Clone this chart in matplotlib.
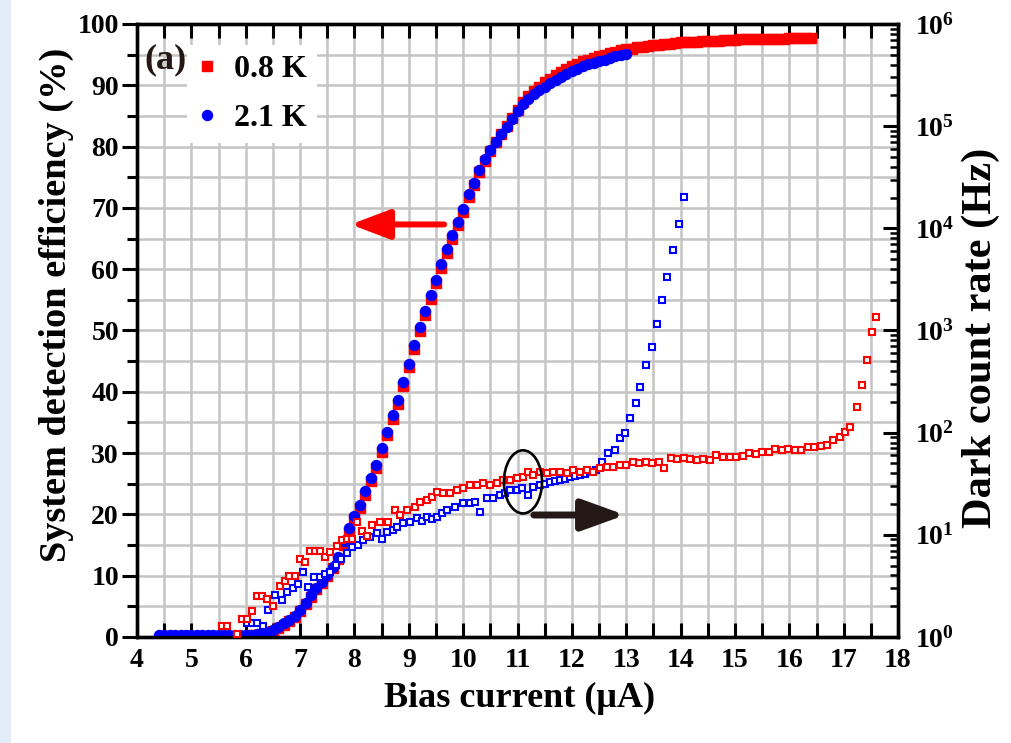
import numpy as np
import matplotlib
matplotlib.use('Agg')
import matplotlib.pyplot as plt
from matplotlib.ticker import MultipleLocator, LogLocator, NullFormatter, LogFormatterMathtext
from matplotlib.patches import Ellipse, Rectangle

plt.rcParams['font.family'] = ['Liberation Serif', 'DejaVu Serif']
plt.rcParams['font.weight'] = 'bold'
plt.rcParams['mathtext.fontset'] = 'custom'
plt.rcParams['mathtext.rm'] = 'Liberation Serif:bold'
plt.rcParams['mathtext.bf'] = 'Liberation Serif:bold'
plt.rcParams['mathtext.it'] = 'Liberation Serif:bold'

# ---------------- data ----------------
# System detection efficiency (%), 2.1 K, bias sweep 4.4 .. 13.0 uA
bias_sde_21K = np.round(np.arange(4.4, 13.05, 0.1), 2)
sde_21K = [0.3, 0.3, 0.3, 0.3, 0.3, 0.3, 0.3, 0.3, 0.3, 0.3, 0.3, 0.3, 0.3, 0.3, 0.3, 0.3,
           0.3, 0.4, 0.5, 0.6, 0.8, 1.2, 1.7, 2.2, 2.8, 3.5,
           4.4, 5.5, 6.8, 8.0, 9.0, 10.1, 11.4, 13.0, 15.6, 17.7,
           19.7, 21.5, 23.8, 26.0, 28.0, 30.8, 33.5, 36.2, 38.6, 41.6,
           44.6, 47.7, 50.5, 53.2, 55.8, 58.3, 60.8, 63.3, 65.6, 67.7,
           69.8, 72.2, 74.1, 76.2, 78.0, 79.5, 80.8, 82.0, 83.2, 84.5,
           85.8, 86.9, 87.8, 88.6, 89.2, 89.8, 90.3, 90.8, 91.4, 91.8,
           92.3, 92.7, 93.1, 93.4, 93.7, 94.0, 94.2, 94.5, 94.7, 94.9,
           95.1]

# System detection efficiency (%), 0.8 K, bias sweep 6.0 .. 16.4 uA
bias_sde_08K = np.round(np.arange(6.0, 16.45, 0.1), 2)
sde_08K = [0.2, 0.3, 0.4, 0.5, 0.7, 1.0, 1.5, 2.0, 2.6, 3.3,
           4.2, 5.3, 6.6, 7.8, 8.8, 9.9, 11.2, 12.8, 15.0, 17.2,
           19.2, 21.0, 23.2, 25.4, 27.5, 30.2, 32.9, 35.6, 38.0, 41.0,
           44.0, 47.0, 49.9, 52.6, 55.2, 57.7, 60.2, 62.7, 65.0, 67.2,
           69.3, 71.7, 73.7, 75.8, 77.7, 79.3, 80.7, 82.0, 83.3, 84.7,
           86.0, 87.2, 88.2, 89.1, 89.8, 90.5, 91.1, 91.7, 92.2, 92.7,
           93.1, 93.5, 93.9, 94.2, 94.5, 94.8, 95.0, 95.3, 95.5, 95.7,
           95.9, 96.0, 96.2, 96.3, 96.4, 96.5, 96.6, 96.7, 96.8, 96.9,
           97.0, 97.0, 97.1, 97.1, 97.2, 97.2, 97.3, 97.3, 97.4, 97.4,
           97.4, 97.5, 97.5, 97.5, 97.5, 97.6, 97.6, 97.6, 97.6, 97.6,
           97.7, 97.7, 97.7, 97.7, 97.7]

# Dark count rate (Hz), 0.8 K
bias_dcr_08K = [5.56, 5.65, 5.84, 5.93, 6.02, 6.11, 6.2, 6.3, 6.4, 6.5,
                6.63, 6.72, 6.8, 6.9, 7.0, 7.09, 7.18, 7.28, 7.37, 7.46,
                7.55, 7.68, 7.77, 7.86, 7.95, 8.05, 8.14, 8.23, 8.32, 8.47,
                8.62, 8.75, 8.84, 8.97, 9.11, 9.2, 9.33, 9.42, 9.52, 9.63,
                9.76, 9.89, 10.0, 10.13, 10.25, 10.37, 10.49, 10.62, 10.73, 10.86,
                10.99, 11.1, 11.19, 11.28, 11.41, 11.54, 11.65, 11.78, 11.91, 12.02,
                12.15, 12.28, 12.39, 12.52, 12.65, 12.76, 12.88, 13.0, 13.12, 13.24,
                13.36, 13.48, 13.6, 13.7, 13.82, 13.94, 14.06, 14.18, 14.3, 14.42,
                14.54, 14.66, 14.78, 14.9, 15.02, 15.14, 15.26, 15.38, 15.5, 15.62,
                15.74, 15.86, 15.98, 16.1, 16.22, 16.34, 16.46, 16.58, 16.69, 16.8,
                16.93, 17.02, 17.12, 17.24, 17.34, 17.43, 17.52, 17.6]
dcr_08K = [1.28, 1.28, 1.07, 1.51, 1.51, 1.81, 2.52, 2.52, 2.36, 2.0,
           3.15, 3.56, 3.98, 3.98, 5.78, 5.40, 7.01, 7.01, 7.01, 6.03,
           6.73, 7.73, 8.87, 9.12, 9.12, 13.2, 10.9, 9.77, 12.4, 13.4,
           13.4, 17.5, 15.6, 17.5, 18.7, 20.9, 21.8, 23.3, 26.1, 25.4,
           25.4, 27.5, 28.7, 30.8, 30.8, 32.1, 30.8, 32.1, 34.4, 34.4,
           35.8, 36.8, 41.1, 38.4, 41.1, 40.0, 41.1, 41.1, 40.0, 42.9,
           41.1, 42.9, 41.1, 44.7, 45.9, 45.9, 47.9, 47.9, 51.3, 49.9,
           51.3, 49.9, 51.3, 45.3, 56.5, 55.0, 56.5, 55.0, 54.2, 55.0,
           54.2, 60.5, 57.3, 57.3, 58.1, 58.9, 63.1, 61.4, 64.0, 64.9,
           69.5, 67.6, 68.5, 67.6, 67.6, 72.4, 72.4, 73.5, 75.5, 84.3,
           90.4, 101, 113, 178, 292, 515, 959, 1355]

# Dark count rate (Hz), 2.1 K
bias_dcr_21K = [6.02, 6.11, 6.2, 6.32, 6.41, 6.54, 6.66, 6.75, 6.87, 6.96,
                7.06, 7.15, 7.25, 7.37, 7.46, 7.55, 7.66, 7.76, 7.86, 7.96,
                8.06, 8.16, 8.28, 8.41, 8.5, 8.6, 8.7, 8.78, 8.9, 9.02,
                9.15, 9.24, 9.33, 9.42, 9.52, 9.61, 9.7, 9.85, 10.0, 10.13,
                10.22, 10.31, 10.44, 10.55, 10.68, 10.77, 10.86, 10.99, 11.09, 11.19,
                11.28, 11.41, 11.5, 11.6, 11.69, 11.78, 11.88, 11.97, 12.06, 12.15,
                12.24, 12.33, 12.45, 12.55, 12.67, 12.79, 12.89, 12.98, 13.07, 13.18,
                13.25, 13.36, 13.47, 13.57, 13.66, 13.75, 13.86, 13.97, 14.06]
dcr_21K = [1.37, 1.37, 1.37, 1.28, 1.84, 2.56, 2.29, 2.74, 3.02, 3.28,
           4.33, 3.10, 3.87, 3.87, 4.09, 4.33, 5.11, 5.86, 6.64, 7.52,
           7.94, 8.87, 9.51, 10.5, 9.12, 10.6, 11.2, 12.0, 13.1, 13.4,
           14.6, 13.8, 15.0, 14.4, 15.0, 16.3, 17.5, 18.7, 20.3, 20.3,
           20.9, 16.7, 23.0, 23.0, 24.7, 25.7, 27.5, 27.5, 28.7, 24.7,
           29.5, 30.8, 31.6, 33.0, 33.4, 34.4, 35.3, 36.8, 37.3, 38.4,
           39.4, 41.1, 43.5, 51.3, 63.1, 67.6, 87.9, 99.5, 139, 196,
           281, 461, 689, 1148, 1968, 3327, 6109, 10914, 20045]

x_ticks = [4, 5, 6, 7, 8, 9, 10, 11, 12, 13, 14, 15, 16, 17, 18]
y_ticks = [0, 10, 20, 30, 40, 50, 60, 70, 80, 90, 100]

RED = '#ff0000'
BLUE = '#0000ff'
DARK = '#231815'

# ---------------- figure ----------------
fig = plt.figure(figsize=(10.12, 7.43), dpi=100)
fig.patches.append(Rectangle((0, 0), 0.011, 1, transform=fig.transFigure,
                             facecolor='#e3edf8', edgecolor='none', zorder=0))

ax = fig.add_axes([0.1354, 0.1427, 0.7520, 0.8250])
ax2 = ax.twinx()

# SDE (left axis)
ax.plot(bias_sde_08K, sde_08K, linestyle='none', marker='s', ms=6.8,
        color=RED, mec=RED, label='0.8 K', zorder=3)
ax.plot(bias_sde_21K, sde_21K, linestyle='none', marker='o', ms=7.2,
        color=BLUE, mec=BLUE, label='2.1 K', zorder=4)

# DCR (right axis)
ax2.plot(bias_dcr_21K, dcr_21K, linestyle='none', marker='s', ms=4.6,
         mfc='white', mec=BLUE, mew=1.5, zorder=3)
ax2.plot(bias_dcr_08K, dcr_08K, linestyle='none', marker='s', ms=4.4,
         mfc='white', mec=RED, mew=1.5, zorder=4)

ax.set_xlim(4, 18)
ax.set_ylim(0, 100)
ax2.set_yscale('log')
ax2.set_ylim(1, 1e6)

# ticks & grid
ax.set_xticks(x_ticks)
ax.xaxis.set_minor_locator(MultipleLocator(0.5))
ax.set_yticks(y_ticks)
ax.yaxis.set_minor_locator(MultipleLocator(5))
ax.grid(which='both', color='#c4c4c4', linewidth=1.8, zorder=0)
ax.set_axisbelow(True)

ax.tick_params(axis='x', which='both', direction='in', length=10, width=2.2,
               top=True, bottom=True, labelsize=20, pad=8)
ax.tick_params(axis='y', which='major', direction='out', length=11, width=2.2,
               labelsize=20, pad=2)
ax.tick_params(axis='y', which='minor', direction='out', length=7, width=2.2)

ax2.yaxis.set_major_locator(LogLocator(base=10, numticks=10))
ax2.yaxis.set_major_formatter(LogFormatterMathtext())
ax2.yaxis.set_minor_locator(LogLocator(base=10, subs=range(2, 10), numticks=20))
ax2.yaxis.set_minor_formatter(NullFormatter())
ax2.tick_params(axis='y', which='major', direction='in', length=11, width=2.2,
                labelsize=20, pad=12)
ax2.tick_params(axis='y', which='minor', direction='in', length=6, width=1.8)

for a in (ax, ax2):
    for s in a.spines.values():
        s.set_linewidth(2.4)
        s.set_color('black')

# labels
ax.set_xlabel('Bias current (μA)', fontsize=26, fontweight='bold')
ax.xaxis.set_label_coords(0.503, -0.073)
ax.set_ylabel('System detection efficiency (%)', fontsize=27.6, fontweight='bold')
ax.yaxis.set_label_coords(-0.083, 0.542)
ax2.set_ylabel('Dark count rate (Hz)', fontsize=30.5, fontweight='bold',
               rotation=90)
ax2.yaxis.set_label_coords(1.083, 0.488)

# legend and panel tag
leg = ax.legend(loc='upper left', bbox_to_anchor=(0.066, 0.966), fontsize=23,
                frameon=True, fancybox=False, edgecolor='none', framealpha=1,
                handlelength=0.6, handletextpad=0.55, labelspacing=0.6,
                borderpad=0.32, borderaxespad=0, markerscale=1.0)
leg.set_zorder(6)
ax.text(4.14, 94.1, '(a)', fontsize=26, fontweight='bold', color=DARK,
        ha='left', va='center', zorder=7)

# red arrow (pointing to left axis)
ax.annotate('', xy=(7.93, 67.3), xytext=(9.65, 67.3),
            arrowprops=dict(arrowstyle='-|>,head_length=0.95,head_width=0.36',
                            mutation_scale=25, color=RED, lw=4.3,
                            shrinkA=0, shrinkB=0), zorder=5)

# ellipse and black arrow (pointing to right axis), drawn on top
ell = Ellipse((11.1, 25.3), width=0.7, height=10.3, transform=ax.transData,
              fill=False, edgecolor='black', linewidth=1.9, zorder=6)
ax2.add_patch(ell)
ax2.annotate('', xy=(12.98, 19.9), xytext=(11.3, 19.9), xycoords=ax.transData,
             textcoords=ax.transData,
             arrowprops=dict(arrowstyle='-|>,head_length=1.05,head_width=0.38',
                             mutation_scale=25, color=DARK, lw=5,
                             shrinkA=0, shrinkB=0), zorder=6)

fig.savefig('out.png', dpi=100)
